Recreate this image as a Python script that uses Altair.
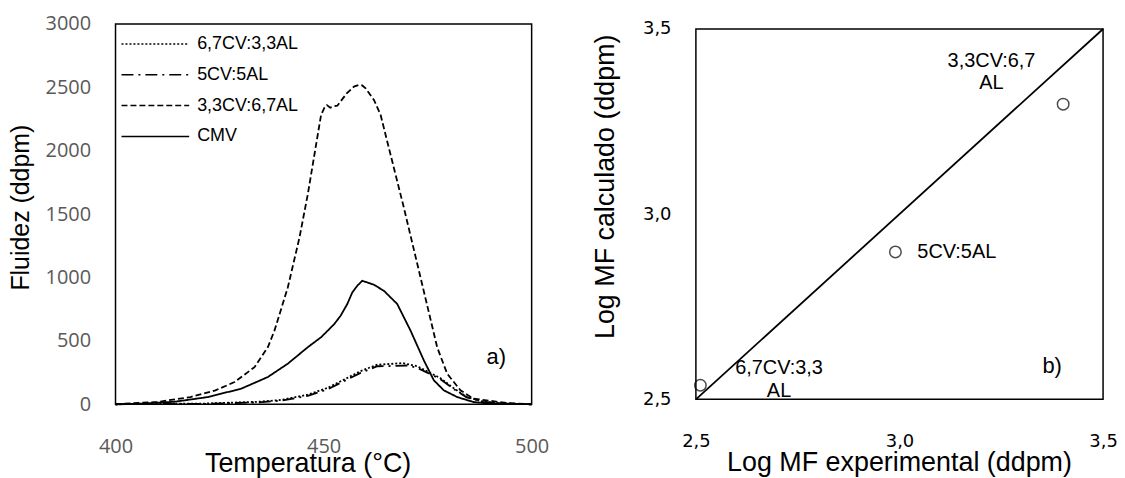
import altair as alt
import pandas as pd

# ---------------- Panel a) : fluidity curves ----------------
series_names = ["6,7CV:3,3AL", "5CV:5AL", "3,3CV:6,7AL", "CMV"]

t_dot = [400, 422, 434.3, 439.8, 446.2, 451, 455.7, 458.9, 462.9, 466, 469, 472.5, 474.9, 478.1, 481.3, 484.4, 488.4, 494, 500]
v_dot = [0, 6, 20, 34, 76, 130, 208, 262, 312, 318, 325, 300, 260, 206, 126, 58, 20, 5, 0]

t_dashdot = [400, 422, 434.3, 439.8, 446.2, 451, 455.7, 458.9, 462.9, 466, 470.1, 472.5, 474.9, 478.1, 481.3, 484.4, 488.4, 494, 500]
v_dashdot = [0, 4, 15, 28, 66, 118, 196, 248, 300, 302, 306, 288, 250, 198, 120, 55, 19, 5, 0]

t_dash = [400, 402, 410, 418, 424, 428.6, 433.4, 436.6, 438.2, 441.4, 444.2, 446.2, 448.2, 449.4, 450.2, 450.8, 451.6, 452.4, 453.3,
          454.1, 455.5, 457.3, 458.5, 459.3, 460.1, 462.1, 463.7, 466.9, 469.3, 473.3, 477.3, 479.7, 482.9, 486, 494, 500]
v_dash = [0, 5, 18, 57, 110, 175, 293, 450, 581, 921, 1314, 1655, 2048, 2283, 2340, 2360, 2340, 2350, 2355,
          2390, 2450, 2506, 2519, 2515, 2493, 2401, 2283, 1864, 1550, 1000, 450, 241, 110, 45, 10, 0]

t_cmv = [400, 406, 414.2, 422.2, 430.2, 436.6, 441.4, 446.2, 449.4, 451, 452.6, 454.1, 455.7, 456.9, 458.1, 459.3, 460.5,
         462.1, 464.5, 466.1, 467.7, 469.3, 470.9, 474.1, 476.5, 478.9, 482.1, 486, 490, 500]
v_cmv = [0, 5, 20, 57, 123, 215, 320, 450, 529, 581, 634, 699, 791, 882, 935, 974, 961,
         943, 895, 843, 791, 686, 581, 346, 189, 110, 57, 18, 5, 0]

x_ticks_a = [400, 450, 500]
y_ticks_a = [0, 500, 1000, 1500, 2000, 2500, 3000]

# ---------------- Panel b) : parity plot ----------------
log_exp = [2.511, 2.99, 3.402]
log_calc = [2.538, 2.898, 3.297]
point_names = ["6,7CV:3,3AL", "5CV:5AL", "3,3CV:6,7AL"]
parity_x = [2.5, 3.5]
parity_y = [2.5, 3.5]
ticks_b = [2.5, 3.0, 3.5]

# ------------------------------------------------------------
rows = []
for name, ts, vs in [(series_names[0], t_dot, v_dot), (series_names[1], t_dashdot, v_dashdot),
                     (series_names[2], t_dash, v_dash), (series_names[3], t_cmv, v_cmv)]:
    for t, v in zip(ts, vs):
        rows.append({"T": t, "F": v, "serie": name})
df_a = pd.DataFrame(rows)

dash_styles = [[2, 2], [12, 5, 2, 5], [6, 3], [1, 0]]
frame = alt.ViewBackground(stroke="black", strokeWidth=1.5, fill="white")

xa = alt.X("T:Q", scale=alt.Scale(domain=[400, 500], nice=False),
           axis=alt.Axis(values=x_ticks_a, format="d", labelFont="Open Sans", labelFontSize=20,
                         labelColor="#595959", labelPadding=32, labelFlush=False, ticks=False, tickSize=0,
                         domain=False, grid=False, title="Temperatura (°C)", titleFont="Liberation Sans",
                         titleFontSize=27, titleFontWeight="normal", titleColor="black",
                         titleX=193, titleY=47, titleAlign="center", titleBaseline="top"))
ya = alt.Y("F:Q", scale=alt.Scale(domain=[0, 3000], nice=False),
           axis=alt.Axis(values=y_ticks_a, format="d", labelFont="Open Sans", labelFontSize=20,
                         labelColor="#595959", labelPadding=25, labelFlush=False, ticks=False, tickSize=0,
                         domain=False, grid=False, title="Fluidez (ddpm)", titleFont="Liberation Sans",
                         titleFontSize=25, titleFontWeight="normal", titleColor="black",
                         titleX=-95, titleY=184, titleAngle=270, titleAlign="center", titleBaseline="middle"))

lines = alt.Chart(df_a).mark_line(color="black", strokeWidth=1.8).encode(
    x=xa, y=ya,
    strokeDash=alt.StrokeDash("serie:N", scale=alt.Scale(domain=series_names, range=dash_styles),
                              legend=alt.Legend(title=None, orient="none", legendX=5, legendY=11,
                                                symbolType="stroke", symbolSize=4624, symbolStrokeWidth=1.5,
                                                symbolStrokeColor="black", labelFont="Liberation Sans",
                                                labelFontSize=18, labelColor="black", rowPadding=13,
                                                clipHeight=18, padding=0, labelOffset=7)),
    order=alt.Order("T:Q"),
)

label_a = alt.Chart(pd.DataFrame({"T": [491.5], "F": [369], "t": ["a)"]})).mark_text(
    font="Liberation Sans", fontSize=22, color="black", align="center", baseline="middle"
).encode(x="T:Q", y="F:Q", text="t:N")

left = alt.layer(lines, label_a).properties(width=418, height=382, view=frame)

# Right panel
df_b = pd.DataFrame({"x": log_exp, "y": log_calc, "name": point_names})
df_line = pd.DataFrame({"x": parity_x, "y": parity_y})

lab_expr = "replace(format(datum.value, '.1f'), '.', ',')"
xb = alt.X("x:Q", scale=alt.Scale(domain=[2.5, 3.5], nice=False),
           axis=alt.Axis(values=ticks_b, labelExpr=lab_expr, labelFont="DejaVu Sans", labelFontSize=18,
                         labelColor="black", labelPadding=33, labelFlush=False, ticks=False, tickSize=0,
                         domain=False, grid=False, title="Log MF experimental (ddpm)", titleFont="Liberation Sans",
                         titleFontSize=27, titleFontWeight="normal", titleColor="black",
                         titleX=204, titleY=51, titleAlign="center", titleBaseline="top"))
yb = alt.Y("y:Q", scale=alt.Scale(domain=[2.5, 3.5], nice=False),
           axis=alt.Axis(values=ticks_b, labelExpr=lab_expr, labelFont="DejaVu Sans", labelFontSize=18,
                         labelColor="black", labelPadding=25, labelFlush=False, ticks=False, tickSize=0,
                         domain=False, grid=False, title="Log MF calculado (ddpm)", titleFont="Liberation Sans",
                         titleFontSize=27, titleFontWeight="normal", titleColor="black",
                         titleX=-91, titleY=158, titleAngle=270, titleAlign="center", titleBaseline="middle"))

parity = alt.Chart(df_line).mark_line(color="black", strokeWidth=1.8).encode(x=xb, y=yb)
pts = alt.Chart(df_b).mark_point(shape="circle", filled=False, color="black", size=133, strokeWidth=1.5).encode(
    x="x:Q", y="y:Q")

txt_style = dict(font="Liberation Sans", fontSize=20, color="black", lineBreak="\n")
t1 = alt.Chart(df_b[df_b["name"] == "3,3CV:6,7AL"]).transform_calculate(
    lab="'3,3CV:6,7\\nAL'").mark_text(align="center", baseline="middle", dx=-72, dy=-43, lineHeight=22, **txt_style
).encode(x="x:Q", y="y:Q", text="lab:N")
t2 = alt.Chart(df_b[df_b["name"] == "5CV:5AL"]).mark_text(
    align="left", baseline="middle", dx=22, dy=0, **txt_style).encode(x="x:Q", y="y:Q", text="name:N")
t3 = alt.Chart(df_b[df_b["name"] == "6,7CV:3,3AL"]).transform_calculate(
    lab="'6,7CV:3,3\\nAL'").mark_text(align="center", baseline="middle", dx=79, dy=-17, lineHeight=23, **txt_style
).encode(x="x:Q", y="y:Q", text="lab:N")

label_b = alt.Chart(pd.DataFrame({"x": [3.375], "y": [2.589], "t": ["b)"]})).mark_text(
    font="Liberation Sans", fontSize=22, color="black", align="center", baseline="middle"
).encode(x="x:Q", y="y:Q", text="t:N")

right = alt.layer(parity, pts, t1, t2, t3, label_b).properties(width=409, height=372, view=frame)

chart = alt.hconcat(left, right, spacing=165, center=True, bounds="flush").properties(
    padding={"left": 0, "top": 4, "right": -2, "bottom": 0}
).configure_view(stroke="black", strokeWidth=1.5)

chart.save("out.html", embed_options={"renderer": "svg", "actions": False})
